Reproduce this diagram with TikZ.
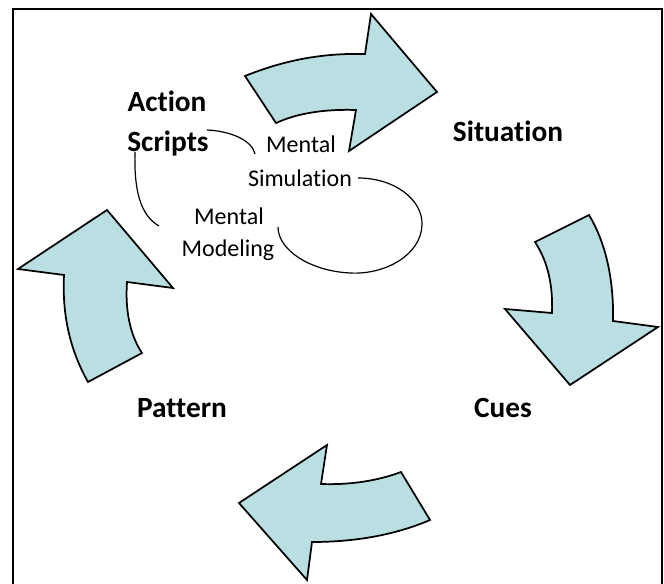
\documentclass[tikz,border=0pt]{standalone}
\usepackage{fontspec}
\setmainfont[Ligatures=NoCommon]{Carlito}
\definecolor{arrowfill}{RGB}{185,223,227}
\tikzset{
  px/.style={x=0.75pt,y=-0.75pt},
  bigarrow/.style={draw=black,line width=1.3pt,fill=arrowfill,line join=miter},
  stage/.style={font=\bfseries\fontsize{22}{26}\selectfont,inner sep=0pt,anchor=base},
  process/.style={font=\fontsize{18}{22}\selectfont,inner sep=0pt,anchor=base},
  link/.style={draw=black,line width=0.9pt},
  frame/.style={draw=black,line width=1.5pt}
}
\begin{document}
\begin{tikzpicture}[px]
\useasboundingbox (0,0) rectangle (664,584);
% outer frame (open at the bottom edge)
\draw[frame] (13,584) -- (13,9) -- (662,9) -- (662,584);

% curved block arrows of the cycle
\path[bigarrow] (245,76) .. controls (285,60) and (322,53) .. (365,54)
  -- (371,14) -- (437,92) -- (349,151) -- (356,110)
  .. controls (325,109) and (298,113) .. (276,123) -- cycle;
\path[bigarrow] (589,215) .. controls (604,240) and (614,275) .. (613,321)
  -- (658,327) -- (570,385) -- (505,309) -- (552,313)
  .. controls (553,285) and (548,262) .. (535,242) -- cycle;
\path[bigarrow] (430,520) .. controls (395,535) and (355,542) .. (312,542)
  -- (307,580) -- (239,503) -- (327,445) -- (321,484)
  .. controls (350,485) and (377,481) .. (401,472) -- cycle;
\path[bigarrow] (88,382) .. controls (70,350) and (62,315) .. (64,275)
  -- (18,269) -- (107,210) -- (173,288) -- (127,282)
  .. controls (125,310) and (130,335) .. (142,353) -- cycle;

% stage labels
\node[stage] (act1) at (167,112) {Action};
\node[stage] (act2) at (168,152) {Scripts};
\node[stage] (sit) at (508,142) {Situation};
\node[stage] (cues) at (503,418) {Cues};
\node[stage] (pat) at (182,418) {Pattern};

% inner recognition loop
\node[process] (sim1) at (301,153) {Mental};
\node[process] (sim2) at (300,187) {Simulation};
\node[process] (mod1) at (229,225) {Mental};
\node[process] (mod2) at (228,257) {Modeling};

\coordinate (a1) at (207,130);
\coordinate (a2) at (255,154);
\coordinate (b1) at (135,152);
\coordinate (b2) at (159,226);
\coordinate (c1) at (358,178);
\coordinate (c2) at (278,227);

\draw[link] (a1) .. controls (230,131) and (252,140) .. (a2);
\draw[link] (b1) .. controls (134,190) and (140,215) .. (b2);
\draw[link] (c1) .. controls (395,178) and (423,200) .. (422,225)
  .. controls (421,255) and (385,275) .. (350,273)
  .. controls (310,271) and (278,250) .. (c2);
\end{tikzpicture}
\end{document}
